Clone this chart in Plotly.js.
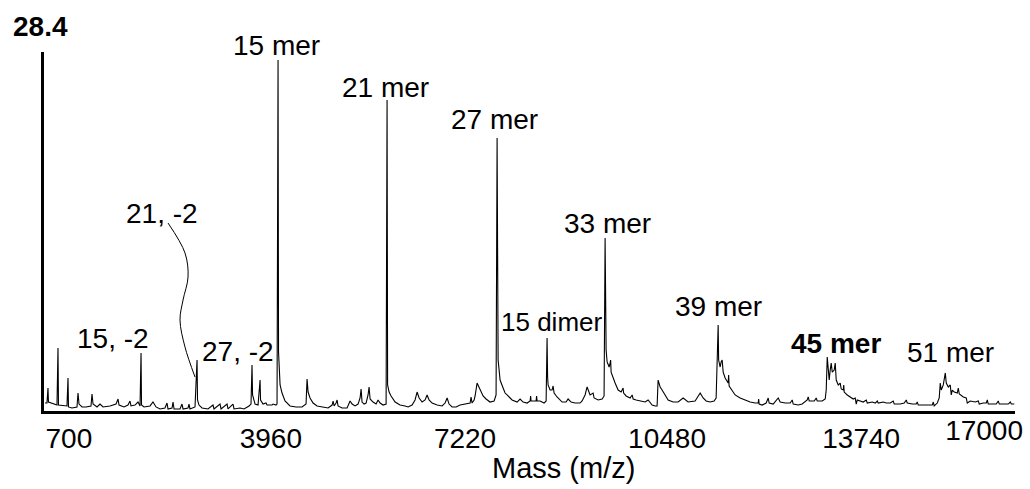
<!DOCTYPE html>
<html>
<head>
<meta charset="utf-8">
<script src="https://cdn.plot.ly/plotly-3.0.1.min.js"></script>
<style>html,body{margin:0;padding:0;background:#fff;}#chart{width:1030px;height:489px;}</style>
</head>
<body>
<div id="chart"></div>
<script>
// Mass spectrum (mass in Da, intensity in arbitrary units; full scale 28.4)
const massA = [717,750,767,775,918,935,943,1086,1103,1111,1170,1254,1271,1288,1338,1405,1489,1506,1523,1590,1640,1691,1808,1909,1943,1959,2043,2110,2144,2160,2228,2278,2312,2329,2337,2379,2480,2530,2580,2648];
const intA  = [0.63,0.63,1.82,0.71,0.47,4.98,0.47,0.40,2.61,0.32,0.24,0.32,1.42,0.55,0.32,0.32,0.40,1.34,0.55,0.32,0.55,0.32,0.40,0.55,0.95,0.47,0.32,0.47,0.79,0.40,0.47,0.71,0.40,4.59,0.47,0.32,0.40,0.71,0.32,0.16];

const massB = [2731,2765,2782,2849,2866,2883,2983,3017,3034,3118,3134,3151,3235,3269,3277,3302,3353,3453,3537,3554,3655,3672,3773,3789,3873,3890,3991,4058,4142,4175,4192,4201,4243,4293,4327,4335,4377,4427,4444,4528,4545,4595,4612];
const intB  = [0.24,0.63,0.16,0.24,0.71,0.16,0.16,0.55,0.16,0.24,0.55,0.16,0.32,4.03,0.87,0.47,0.24,0.16,0.47,0.16,0.55,0.16,0.55,0.16,0.55,0.16,0.24,0.16,0.40,0.55,3.64,1.27,0.55,0.47,2.45,0.87,0.55,0.63,0.47,0.47,0.55,0.47,0.55];

const massC = [4629,4637,4646,4663,4696,4746,4830,4931,5032,5099,5116,5133,5166,5217,5284,5368,5469,5536,5553,5570,5603,5620,5636,5704,5788,5838,5872,5922,5972,6006,6023,6039,6073,6107,6140,6157,6174,6224,6275,6308,6342,6392,6443,6459,6468,6493,6526,6594,6677,6761,6812,6879,6929,6963,6997,7047,7097,7131,7164,7215,7299,7383,7433,7467,7500];
const intC  = [27.76,4.67,3.88,2.06,1.42,0.79,0.40,0.32,0.32,0.55,2.53,1.50,1.03,0.63,0.40,0.32,0.24,0.47,0.79,0.40,0.63,0.87,0.40,0.24,0.24,0.79,0.55,0.40,0.55,1.03,1.74,0.71,0.55,0.63,1.27,1.90,0.95,0.71,0.55,0.87,0.63,0.47,0.55,24.60,2.06,1.50,1.19,0.71,0.47,0.40,0.32,0.47,0.87,1.50,1.03,0.71,0.87,1.27,0.87,0.63,0.47,0.40,0.63,1.03,0.55];

const massD = [7551,7618,7685,7769,7819,7853,7869,7886,7920,7937,7970,8020,8071,8121,8188,8256,8289,8306,8314,8323,8340,8356,8407,8440,8474,8558,8642,8692,8743,8810,8860,8869,8877,8961,8969,8978,9028,9095,9129,9145,9154,9162,9196,9229,9246,9263,9313,9397,9464,9498,9548,9615,9699,9733,9783,9817,9867,9918,9934,10002,10069,10102,10119,10128,10136,10153,10187,10203,10212,10220,10254,10287,10338,10388,10421,10430,10472,10539,10573,10590,10640,10707,10791,10841,10875];
const intD  = [0.32,0.32,0.47,0.55,0.63,0.63,1.11,0.63,0.87,1.19,2.21,1.66,1.19,0.95,0.71,0.79,1.27,21.59,4.27,4.03,3.24,2.45,1.82,1.42,1.27,0.87,0.71,0.95,0.71,0.63,0.79,1.19,0.79,0.79,1.19,0.79,0.79,0.63,0.79,5.77,2.69,2.06,1.66,1.66,1.98,1.42,1.11,0.71,0.71,0.95,0.71,0.63,0.63,0.79,1.27,1.90,1.27,1.42,1.03,0.87,0.95,1.19,13.68,5.46,4.83,3.88,3.48,3.80,4.03,3.08,2.61,2.21,1.66,1.50,1.82,1.42,1.19,1.03,1.27,0.95,0.87,0.79,0.71,0.87,0.71];

const massE = [10908,10959,10992,11009,11043,11076,11127,11177,11261,11345,11429,11513,11630,11681,11715,11765,11815,11882,11949,11983,12017,12025,12050,12067,12084,12101,12134,12185,12193,12201,12252,12302,12386,12470,12554,12638,12689,12697,12705,12756,12823,12857,12873,12941,12991,13025,13058,13142,13226,13260,13277,13361,13428,13478,13512,13529,13546,13630,13663,13680,13764,13814,13831,13848,13865,13881,13898,13915,13932,13965,13982,13999,14033,14066,14083,14117,14125,14133,14184,14234,14284,14318,14335,14352,14402,14452,14503,14520,14604,14654];
const intE  = [0.47,0.40,0.40,2.45,1.90,1.66,1.27,0.87,0.71,0.71,1.03,0.71,0.79,1.11,1.42,1.03,0.79,0.71,0.79,1.03,6.80,4.03,3.48,3.88,4.03,3.08,2.61,2.21,2.85,1.98,1.66,1.27,1.03,0.87,0.71,0.63,0.63,0.95,0.55,0.47,0.63,1.03,0.63,0.55,0.79,1.03,0.71,0.63,0.63,0.87,0.55,0.47,0.55,0.71,0.87,1.11,0.79,0.79,1.03,0.79,0.79,0.95,1.66,4.27,3.48,2.45,3.24,3.80,3.08,3.24,3.80,2.45,2.06,2.21,1.74,1.66,2.06,1.50,1.27,1.11,0.95,1.03,0.55,0.87,0.79,0.71,0.87,0.63,0.71,0.63];

const massF = [14688,14704,14788,14839,14906,14956,14973,15074,15141,15175,15191,15275,15342,15359,15376,15476,15544,15611,15628,15644,15695,15712,15728,15745,15762,15796,15813,15830,15846,15880,15913,15930,15947,15981,16031,16048,16065,16132,16182,16199,16249,16333,16384,16400,16467,16518,16535,16551,16618,16685,16719,16736,16820,16887,16921,16938,16988];
const intF  = [0.79,0.63,0.71,0.63,0.63,0.79,0.55,0.55,0.63,0.87,0.63,0.55,0.55,0.71,0.47,0.47,0.47,0.47,0.71,0.40,0.63,0.87,1.03,2.21,1.66,2.06,2.45,3.01,2.21,1.90,2.06,1.27,1.66,1.50,1.42,1.82,1.34,1.11,1.03,0.63,0.79,0.71,0.79,0.55,0.63,0.63,0.87,0.55,0.55,0.55,0.79,0.55,0.55,0.55,0.71,0.55,0.55];

// Peak labels (mass position, height as fraction of the plot)
const peakLabels = ["15 mer","21 mer","27 mer","33 mer","21, -2","15, -2","27, -2","15 dimer","39 mer","45 mer","51 mer"];
const labelMass  = [4595,6426,8256,10153,2681,1858,3957,9213,12017,14000,15912];
const labelFrac  = [1.017,0.900,0.811,0.521,0.549,0.201,0.167,0.248,0.292,0.187,0.162];

// Leader curve from "21, -2" to its peak
const leaderMass = [2782,3067,3118,3034,2983,3067,3235];
const leaderInt  = [14.87,12.5,10.6,8.78,7.2,5.06,2.69];

// Axis
const tickLabels = ["700","3960","7220","10480","13740"];
const tickValues = [700,3960,7220,10480,13740];
const lastTick = 17000;
const fullScale = "28.4";
const xTitle = "Mass (m/z)";

const mass = massA.concat(massB, massC, massD, massE, massF);
const inten = intA.concat(intB, intC, intD, intE, intF);

const font = "Liberation Sans, Arial, sans-serif";

const traces = [
  {x: mass, y: inten, type: "scatter", mode: "lines", line: {color: "#000", width: 1.1}, hoverinfo: "skip"},
  {x: leaderMass, y: leaderInt, xaxis: "x2", yaxis: "y", type: "scatter", mode: "lines", line: {color: "#000", width: 1, shape: "spline"}, hoverinfo: "skip"}
];

const annotations = peakLabels.map((t, i) => ({
  x: labelMass[i], y: labelFrac[i], xref: "x", yref: "paper", text: t, showarrow: false,
  xanchor: "center", yanchor: "middle",
  font: {family: font, size: t === "15 dimer" ? 26 : 28, color: "#000", weight: t === "45 mer" ? "bold" : "normal"}
}));
annotations.push({
  x: -0.004, y: 1.072, xref: "paper", yref: "paper", text: fullScale, showarrow: false,
  xanchor: "center", yanchor: "middle",
  font: {family: font, size: 28, color: "#000", weight: "bold"}
});
annotations.push({
  x: 0.535, y: -0.159, xref: "paper", yref: "paper", text: xTitle, showarrow: false,
  xanchor: "center", yanchor: "middle",
  font: {family: font, size: 29, color: "#000"}
});

const tickFont = {family: font, size: 28, color: "#000"};

const layout = {
  width: 1030, height: 489,
  margin: {l: 44, r: 15, t: 52, b: 78},
  paper_bgcolor: "#fff", plot_bgcolor: "#fff",
  showlegend: false,
  xaxis: {
    range: [700, 17000], showgrid: false, zeroline: false,
    showline: true, linecolor: "#000", linewidth: 3,
    tickmode: "array", tickvals: tickValues, ticktext: tickLabels, ticks: "",
    ticklabelposition: "outside right", ticklabeloverflow: "allow",
    tickfont: tickFont
  },
  xaxis2: {
    range: [700, 17000], overlaying: "x", anchor: "y", side: "bottom",
    showgrid: false, zeroline: false, showline: false,
    tickmode: "array", tickvals: [lastTick], ticktext: [String(lastTick)], ticks: "",
    ticklabelposition: "outside left", ticklabeloverflow: "allow", ticklabelshift: 8,
    tickfont: tickFont
  },
  yaxis: {
    range: [0, 28.4], showgrid: false, zeroline: false,
    showline: true, linecolor: "#000", linewidth: 3,
    showticklabels: false, ticks: ""
  },
  annotations: annotations
};

Plotly.newPlot("chart", traces, layout, {staticPlot: true, displayModeBar: false});
</script>
</body>
</html>
